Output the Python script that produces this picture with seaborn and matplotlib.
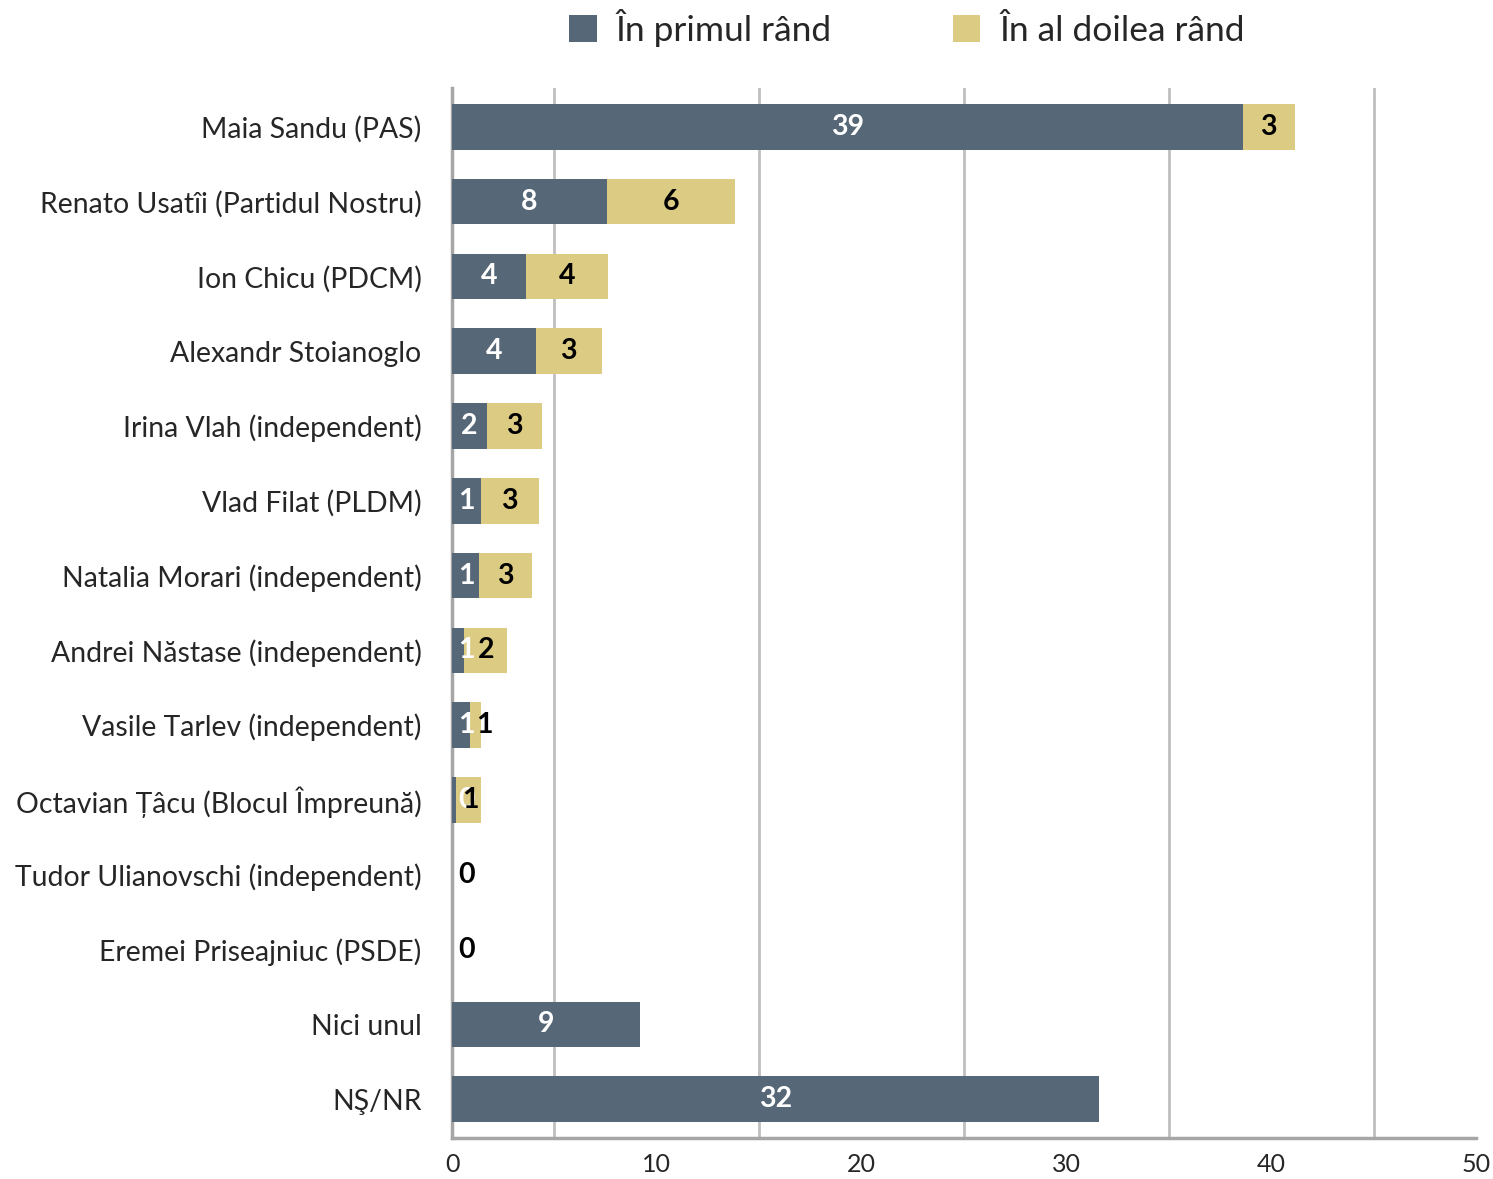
import numpy as np
import pandas as pd
import matplotlib
matplotlib.use("Agg")
import matplotlib.pyplot as plt
from matplotlib.patches import Patch
import seaborn as sns

categories = [
    "Maia Sandu (PAS)",
    "Renato Usatîi (Partidul Nostru)",
    "Ion Chicu (PDCM)",
    "Alexandr Stoianoglo",
    "Irina Vlah (independent)",
    "Vlad Filat (PLDM)",
    "Natalia Morari (independent)",
    "Andrei Năstase (independent)",
    "Vasile Tarlev (independent)",
    "Octavian Țâcu (Blocul Împreună)",
    "Tudor Ulianovschi (independent)",
    "Eremei Priseajniuc (PSDE)",
    "Nici unul",
    "NŞ/NR",
]
first_round = [38.6, 7.55, 3.6, 4.1, 1.7, 1.4, 1.3, 0.6, 0.9, 0.2, 0.0, 0.0, 9.2, 31.6]
second_round = [2.55, 6.25, 4.0, 3.2, 2.7, 2.85, 2.6, 2.1, 0.52, 1.2, 0.0, 0.0, np.nan, np.nan]
series_names = ["În primul rând", "În al doilea rând"]
xticks = [0, 10, 20, 30, 40, 50]

c1 = "#566778"
c2 = "#DCCB82"
grid_c = "#BFBFBF"
axis_c = "#A6A6A6"

sns.set_theme(style="white")
plt.rcParams["font.family"] = ["Lato", "DejaVu Sans"]

df = pd.DataFrame({
    "cat": categories,
    "first": first_round,
    "second": second_round,
})
df["total"] = df["first"] + df["second"].fillna(0)

fig = plt.figure(figsize=(14.93, 11.79), dpi=100)
ax = fig.add_axes([452 / 1493, 1 - 1138 / 1179, (1476 - 452) / 1493, (1138 - 88) / 1179])

sns.barplot(data=df, y="cat", x="total", color=c2, saturation=1, width=0.61,
            orient="h", ax=ax, zorder=3, linewidth=0)
sns.barplot(data=df, y="cat", x="first", color=c1, saturation=1, width=0.61,
            orient="h", ax=ax, zorder=4, linewidth=0)

ax.set_xlim(0, 50)
ax.set_ylim(len(categories) - 0.48, -0.52)
ax.set_xticks(xticks)
ax.set_xticklabels([str(t) for t in xticks], fontsize=18)
ax.set_xlabel("")
ax.set_ylabel("")
ax.tick_params(axis="y", labelsize=20.4, length=0, pad=22)
ax.tick_params(axis="x", length=7, width=2, color=axis_c, direction="out", pad=4)

for g in [5, 15, 25, 35, 45]:
    ax.axvline(g, color=grid_c, lw=2, zorder=1)

for s in ["top", "right"]:
    ax.spines[s].set_visible(False)
for s in ["left", "bottom"]:
    ax.spines[s].set_color(axis_c)
    ax.spines[s].set_linewidth(2.5)

# value labels
for i, (a, b) in enumerate(zip(first_round, second_round)):
    xa = max(a / 2, 0.72)
    ax.text(xa, i, f"{a:.0f}", color="white", fontsize=20.5, fontweight="bold",
            ha="center", va="center", zorder=6)
    if not np.isnan(b):
        xb = max(a + b / 2, a + 0.7)
        ax.text(xb, i, f"{b:.0f}", color="black", fontsize=20.5, fontweight="bold",
                ha="center", va="center", zorder=7)

handles = [Patch(facecolor=c1, edgecolor="none"), Patch(facecolor=c2, edgecolor="none")]
fig.legend(handles, series_names, loc="center", bbox_to_anchor=(907 / 1493, 1 - 28 / 1179),
           ncol=2, frameon=False, fontsize=25.5, handlelength=0.78, handleheight=0.78,
           handletextpad=0.55, columnspacing=3.4)

fig.savefig("out.png", dpi=100)
